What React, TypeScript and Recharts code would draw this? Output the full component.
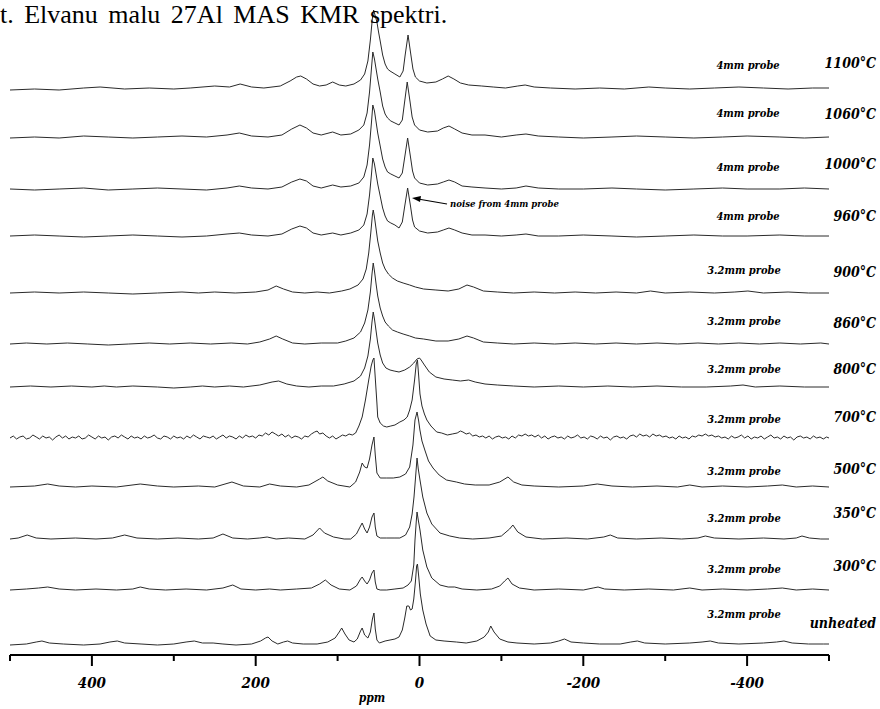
import React from 'react';
import { LineChart, Line, XAxis, YAxis } from 'recharts';

type Pt = [number, number];

// ppm, intensity (stacked 27Al MAS NMR spectra, top to bottom)
const T1100: Pt[] = [[500,-2],[470,-1],[440,-2],[410,0],[390,1],[360,-1],[330,0],[300,-1],[280,0],[250,2],[232,1],[219,4],[205,1],[190,0],[170,2],[158,7],[150,11],[145,12],[138,9],[130,4],[122,2],[114,3],[106,6],[98,3],[90,2],[80,4],[72,8],[67,14],[63,27],[60,48],[57.5,70],[56,78],[54,72],[52,66],[50,56],[48,47],[45,33],[42,24],[39,19],[36,17],[30,14],[24,11],[20,17],[17.5,33],[14,53],[10.5,33],[8,19],[5,11],[0,7],[-9,5],[-20,6],[-28,9],[-35,12],[-42,9],[-50,5],[-60,3],[-76,2],[-90,1],[-105,0],[-120,2],[-129,3],[-140,1],[-160,0],[-190,-1],[-220,0],[-250,-1],[-280,1],[-300,0],[-330,-1],[-360,0],[-390,1],[-420,0],[-450,-1],[-480,0],[-500,0]];
const T1060: Pt[] = [[500,-1],[470,0],[440,-1],[410,1],[380,0],[350,-1],[320,0],[290,1],[260,0],[235,2],[220,4],[205,1],[185,0],[168,2],[156,8],[146,12],[138,9],[130,4],[120,2],[106,5],[96,2],[84,3],[74,7],[68,12],[64,24],[61,45],[58.5,70],[57,85],[55,78],[53,68],[51,58],[48,45],[45,31],[42,23],[39,19],[35,16],[30,14],[25,12],[21,17],[18.5,33],[15,55],[11.5,35],[9,20],[6,12],[0,7],[-10,5],[-22,6],[-29,9],[-36,11],[-43,8],[-52,4],[-64,2],[-80,2],[-100,0],[-118,2],[-130,3],[-145,1],[-170,0],[-200,-1],[-235,0],[-265,1],[-300,0],[-335,-1],[-370,0],[-400,1],[-440,0],[-470,-1],[-500,0]];
const T1000: Pt[] = [[500,0],[470,-1],[440,0],[410,1],[380,-1],[350,0],[320,1],[290,0],[260,-1],[235,1],[220,3],[205,1],[185,0],[168,2],[156,7],[146,10],[138,8],[130,3],[120,1],[106,4],[96,2],[84,3],[74,6],[68,12],[64,24],[61,44],[58.5,68],[57,84],[55,78],[53,67],[51,56],[48,43],[45,30],[42,22],[39,17],[35,15],[30,13],[25,11],[21,16],[18,32],[14.5,51],[11,32],[8.5,18],[6,11],[0,6],[-10,4],[-22,5],[-29,7],[-36,9],[-43,7],[-52,3],[-64,2],[-80,1],[-100,0],[-118,1],[-130,3],[-145,1],[-170,0],[-200,0],[-235,1],[-265,0],[-300,-1],[-335,0],[-370,1],[-400,0],[-440,0],[-470,1],[-500,0]];
const T960: Pt[] = [[500,0],[470,1],[440,0],[410,-1],[380,0],[350,1],[320,0],[290,-1],[260,0],[235,2],[220,3],[205,1],[185,0],[168,2],[156,7],[146,10],[138,8],[130,3],[120,1],[106,3],[96,1],[84,3],[74,6],[68,11],[64,22],[61,41],[58.5,63],[57,78],[55,72],[53,62],[51,52],[48,40],[45,28],[42,20],[39,15],[35,13],[30,11],[25,8],[21,14],[18,30],[14.5,48],[11,30],[8.5,16],[6,9],[0,5],[-10,3],[-22,4],[-29,6],[-36,8],[-43,6],[-52,3],[-64,1],[-80,1],[-100,0],[-118,1],[-130,2],[-145,0],[-170,0],[-200,1],[-235,0],[-265,-1],[-300,0],[-335,1],[-370,0],[-400,0],[-440,1],[-470,0],[-500,0]];
const T900: Pt[] = [[500,0],[470,1],[440,0],[410,1],[380,0],[350,-1],[320,0],[290,1],[270,0],[250,1],[225,0],[200,1],[185,3],[175,7],[166,4],[155,1],[140,0],[125,1],[110,0],[95,2],[85,4],[75,8],[69,14],[65,24],[62,40],[59.5,60],[57.5,78],[56.5,83],[55,76],[53,64],[51,52],[48,40],[45,30],[42,24],[38,19],[33,15],[27,12],[20,10],[12,8],[5,6],[-5,4],[-20,3],[-35,2],[-48,4],[-58,8],[-66,6],[-78,2],[-95,1],[-115,0],[-140,1],[-165,0],[-190,1],[-215,0],[-240,1],[-265,0],[-282,2],[-300,0],[-330,1],[-360,0],[-385,1],[-401,2],[-420,0],[-450,1],[-475,0],[-500,0]];
const T860: Pt[] = [[500,0],[480,1],[455,0],[430,1],[405,0],[380,-1],[355,0],[330,1],[305,0],[280,1],[255,0],[230,1],[210,0],[195,2],[183,5],[175,8],[167,5],[155,1],[140,0],[120,1],[100,1],[90,3],[80,6],[72,12],[67,21],[63,34],[60,52],[58,70],[56.5,81],[55,73],[53,60],[51,48],[48,36],[45,28],[42,22],[38,18],[33,14],[27,12],[20,10],[12,8],[5,6],[-5,5],[-20,3],[-35,3],[-48,5],[-58,8],[-66,6],[-78,2],[-95,1],[-115,0],[-140,1],[-165,0],[-190,1],[-215,0],[-240,1],[-265,0],[-290,1],[-315,0],[-340,1],[-365,0],[-390,1],[-415,0],[-440,1],[-465,0],[-490,1],[-500,0]];
const T800: Pt[] = [[500,0],[475,1],[450,0],[425,1],[400,0],[385,1],[370,0],[350,1],[320,0],[300,-1],[280,0],[265,1],[250,0],[232,1],[215,0],[195,2],[180,5],[172,6],[162,3],[150,1],[135,0],[120,1],[105,1],[92,3],[80,6],[72,11],[67,19],[63,31],[60,48],[58,65],[56.5,75],[55,68],[53,56],[51,44],[48,32],[45,24],[41,19],[36,17],[31,16],[25,15],[18,17],[12,20],[7,24],[3,28],[0,29],[-2,27],[-6,22],[-12,15],[-20,10],[-30,8],[-40,7],[-50,6],[-60,7],[-68,5],[-80,3],[-95,2],[-115,1],[-140,0],[-170,1],[-200,0],[-230,1],[-260,0],[-290,1],[-320,0],[-350,0],[-380,1],[-395,2],[-410,0],[-440,1],[-470,0],[-500,0]];
const T700: Pt[] = [[500,0],[496,2],[492,-1],[488,1],[484,2],[480,-1],[476,0],[472,3],[468,1],[464,-1],[460,2],[456,0],[452,1],[448,-2],[444,1],[440,3],[436,0],[432,2],[428,-1],[424,1],[420,0],[416,2],[412,-1],[408,0],[404,3],[400,1],[396,-1],[392,2],[388,0],[384,1],[380,-2],[376,1],[372,2],[368,0],[364,3],[360,1],[356,-1],[352,2],[348,0],[344,1],[340,-1],[336,2],[332,0],[328,1],[324,3],[320,0],[316,-1],[312,2],[308,1],[304,-1],[300,2],[296,0],[292,1],[288,-1],[284,2],[280,0],[276,3],[272,1],[268,-1],[264,2],[260,1],[256,0],[252,2],[248,-1],[244,1],[240,3],[236,0],[232,2],[228,1],[224,-1],[220,2],[216,0],[212,3],[208,1],[204,2],[200,0],[196,3],[192,2],[188,5],[184,3],[180,6],[176,4],[172,2],[168,4],[164,1],[160,3],[156,0],[152,2],[148,1],[144,-1],[140,2],[136,1],[132,4],[128,6],[125,7],[122,4],[118,5],[114,2],[110,0],[106,2],[102,-1],[98,1],[94,3],[90,2],[86,4],[82,3],[78,5],[74,12],[70,21],[66,38],[62,58],[59,72],[57,78],[55.6,80],[54,60],[52,35],[51,21],[48,15],[44,12],[40,11],[35,12],[30,13],[24,16],[19,18],[15,21],[12,28],[9,38],[6,58],[4,74],[2.5,78],[1,62],[-0.6,44],[-3,32],[-6,24],[-9,18],[-14,12],[-21,6],[-27,5],[-34,3],[-40,4],[-46,5],[-50,7],[-53,6],[-57,4],[-61,5],[-65,2],[-69,3],[-73,1],[-77,2],[-81,0],[-85,2],[-89,-1],[-93,1],[-97,2],[-101,0],[-105,1],[-109,-1],[-113,2],[-117,0],[-121,3],[-125,2],[-129,4],[-133,2],[-137,3],[-141,1],[-145,3],[-149,0],[-153,2],[-157,-1],[-161,1],[-165,2],[-169,0],[-173,1],[-177,-1],[-181,2],[-185,0],[-189,1],[-193,3],[-197,0],[-201,1],[-205,-1],[-209,2],[-213,1],[-217,-1],[-221,2],[-225,0],[-229,1],[-233,-2],[-237,1],[-241,2],[-245,0],[-249,1],[-253,-1],[-257,2],[-261,3],[-265,1],[-269,4],[-273,2],[-277,3],[-281,1],[-285,4],[-289,2],[-293,3],[-297,1],[-301,2],[-305,0],[-309,1],[-313,-1],[-317,2],[-321,0],[-325,1],[-329,-1],[-333,2],[-337,1],[-341,3],[-345,2],[-349,4],[-353,2],[-357,3],[-361,1],[-365,2],[-369,0],[-373,1],[-377,-1],[-381,2],[-385,0],[-389,1],[-393,3],[-397,0],[-401,2],[-405,-1],[-409,1],[-413,0],[-417,2],[-421,-1],[-425,1],[-429,3],[-433,0],[-437,1],[-441,-1],[-445,2],[-449,0],[-453,1],[-457,-2],[-461,1],[-465,2],[-469,0],[-473,1],[-477,-1],[-481,2],[-485,0],[-489,1],[-493,-1],[-497,1],[-500,0]];
const T500: Pt[] = [[500,0],[470,1],[454,3],[440,1],[420,0],[400,1],[370,0],[341,3],[320,1],[300,0],[270,1],[250,0],[229,5],[215,1],[195,0],[183,3],[170,1],[150,0],[135,2],[122,8],[118,10],[112,6],[100,2],[85,0],[78,5],[73,15],[70,24],[67,20],[64,19],[61,28],[58,42],[55.6,50],[54,32],[52,14],[48,9],[40,9],[32,9],[24,10],[17,13],[12,20],[8,42],[5.5,67],[3,75],[1,66],[-0.5,57],[-3,46],[-6.5,37],[-11,26],[-16.5,19],[-24,12],[-33,7],[-45,5],[-55,3],[-68,2],[-85,2],[-98,5],[-108,10],[-115,5],[-125,2],[-140,1],[-170,0],[-200,1],[-217,3],[-235,1],[-260,0],[-290,1],[-315,0],[-330,2],[-345,0],[-370,1],[-400,0],[-425,1],[-443,2],[-460,0],[-480,1],[-500,0]];
const T350: Pt[] = [[500,0],[490,1],[479,4],[468,1],[450,0],[420,1],[395,0],[375,1],[360,4],[345,1],[320,0],[295,1],[270,0],[252,1],[240,5],[228,1],[210,0],[195,1],[186,2],[175,0],[160,1],[140,0],[130,4],[122,11],[116,6],[105,2],[92,0],[84,0],[77,5],[72,13],[70,16],[67,10],[64,6],[61,12],[58,22],[55.6,26],[54,12],[52,3],[48,1],[40,1],[30,1],[24,1],[17,4],[12,12],[9,25],[6.7,42],[4.5,65],[3,81],[1.5,70],[-0.6,59],[-4,42],[-9,26],[-15,15],[-25,6],[-37,3],[-49,1],[-65,0],[-85,1],[-100,3],[-110,10],[-114,14],[-120,7],[-130,2],[-150,0],[-180,1],[-205,0],[-225,2],[-233,4],[-242,1],[-265,0],[-295,1],[-320,0],[-340,1],[-349,3],[-360,1],[-390,0],[-420,1],[-445,0],[-460,1],[-467,3],[-476,1],[-490,0],[-500,0]];
const T300: Pt[] = [[500,0],[480,1],[465,2],[454,3],[440,1],[420,0],[395,1],[370,0],[350,1],[341,3],[330,1],[310,0],[285,1],[260,0],[240,2],[228,5],[218,1],[200,0],[183,1],[170,0],[150,1],[132,2],[122,6],[115,10],[108,5],[98,1],[85,0],[77,4],[72,11],[70,13],[67,9],[64,6],[61,10],[58,17],[55.6,20],[54,8],[52,1],[48,0],[40,0],[30,1],[20,2],[14,5],[10,9],[7,25],[5.5,50],[4,68],[3,78],[1.5,70],[-0.6,60],[-4,40],[-9,23],[-15,12],[-25,5],[-35,3],[-43,3],[-52,1],[-70,0],[-88,1],[-98,4],[-104,9],[-108,12],[-113,6],[-122,2],[-140,0],[-170,1],[-200,0],[-212,2],[-218,3],[-226,1],[-250,0],[-280,1],[-310,0],[-330,2],[-345,0],[-370,1],[-400,0],[-425,1],[-443,2],[-460,0],[-480,1],[-500,0]];
const TUNH: Pt[] = [[500,-1],[480,0],[468,2],[461,3],[452,1],[435,0],[410,-1],[390,0],[378,2],[369,3],[360,1],[340,0],[320,-1],[300,0],[285,2],[275,3],[265,1],[252,1],[240,0],[224,-1],[205,0],[194,3],[188,6],[185,7],[180,3],[173,0],[166,2],[161,3],[155,1],[142,0],[125,0],[112,2],[103,6],[98,12],[95,16],[91,10],[86,4],[80,2],[76,5],[72,13],[70,16],[67,9],[63,6],[60,12],[57.5,25],[55.6,31],[54,15],[52,4],[49,1],[42,3],[36,4],[30,5],[25,7],[21,14],[18,26],[15.5,38],[13,38],[11,34],[9,35],[7,45],[5,62],[3.5,78],[2.5,80],[1,68],[-1,50],[-4,34],[-8,20],[-13,8],[-20,4],[-30,3],[-45,2],[-57,1],[-70,3],[-79,7],[-84,12],[-87,18],[-91,12],[-98,5],[-108,2],[-119,1],[-140,0],[-160,1],[-170,3],[-177,5],[-185,2],[-200,1],[-220,0],[-245,0],[-258,2],[-266,3],[-275,1],[-300,0],[-330,1],[-345,2],[-355,3],[-365,1],[-390,0],[-420,1],[-436,2],[-445,3],[-455,1],[-475,0],[-493,0],[-500,0]];

const SPECTRA: Pt[][] = [T1100, T1060, T1000, T960, T900, T860, T800, T700, T500, T350, T300, TUNH];
const TEMPERATURES = ['1100°C', '1060°C', '1000°C', '960°C', '900°C', '860°C', '800°C', '700°C', '500°C', '350°C', '300°C', 'unheated'];
const PROBES = ['4mm probe', '4mm probe', '4mm probe', '4mm probe', '3.2mm probe', '3.2mm probe', '3.2mm probe', '3.2mm probe', '3.2mm probe', '3.2mm probe', '3.2mm probe', '3.2mm probe'];
// vertical stacking offset of each spectrum (intensity units)
const OFFSETS = [567, 518, 466, 419, 362, 311, 268, 217, 168, 116, 65, 11];
const X_TICKS = [500, 400, 300, 200, 100, 0, -100, -200, -300, -400, -500];
const X_LABELED = [400, 200, 0, -200, -400];
const TITLE = 't. Elvanu malu 27Al MAS KMR spektri.';
const NOTE = 'noise from 4mm probe';
const X_TITLE = 'ppm';

// layout
const W = 880;
const H = 709;
const PROBE_Y = [65, 113, 167, 216, 270, 321, 369, 419, 471, 518, 569, 614];
const TEMP_Y = [63, 114, 164, 216, 272, 323, 369, 417, 469, 513, 566, 623];
const LABEL_FONT = "'DejaVu Serif Condensed', 'DejaVu Serif', 'Liberation Serif', serif";

const series = SPECTRA.map((pts, i) => pts.map(([ppm, v]) => ({ x: ppm, y: v + OFFSETS[i] })));

const AxisTick = (props: any) => {
  const { x, y, payload } = props;
  const v = payload.value as number;
  const major = X_LABELED.includes(v);
  return (
    <g>
      <line x1={x} y1={y} x2={x} y2={y + (major ? 11 : 6)} stroke="#000" strokeWidth={2} />
      {major && (
        <text x={x} y={y + 33} textAnchor="middle" fontFamily={LABEL_FONT} fontStyle="italic" fontWeight="bold" fontSize={15} fill="#000">
          {String(v)}
        </text>
      )}
    </g>
  );
};

export default function App() {
  return (
    <div style={{ position: 'absolute', left: 0, top: 0, width: W, height: H, background: '#fff' }}>
      <LineChart width={W} height={H} margin={{ top: 0, right: 51, bottom: 0, left: 10 }}>
        <XAxis
          dataKey="x"
          type="number"
          domain={[-500, 500]}
          reversed
          ticks={X_TICKS}
          interval={0}
          allowDataOverflow
          height={54}
          tickSize={0}
          tickMargin={0}
          tickLine={false}
          axisLine={{ stroke: '#000', strokeWidth: 2 }}
          tick={<AxisTick />}
        />
        <YAxis hide type="number" domain={[0, 655]} allowDataOverflow width={0} />
        {series.map((d, i) => (
          <Line
            key={TEMPERATURES[i]}
            data={d}
            dataKey="y"
            type="linear"
            dot={false}
            activeDot={false}
            stroke="#2a2a2a"
            strokeWidth={1}
            isAnimationActive={false}
          />
        ))}
      </LineChart>
      <svg width={W} height={H} style={{ position: 'absolute', left: 0, top: 0, pointerEvents: 'none' }}>
        <text x={0} y={23} fontFamily="'Liberation Serif', 'Times New Roman', serif" fontSize={26} wordSpacing={4} fill="#000">
          {TITLE}
        </text>
        {PROBES.map((p, i) => (
          <text key={'p' + i} x={i < 4 ? 748 : 744} y={PROBE_Y[i] + 4} textAnchor="middle" fontFamily={LABEL_FONT} fontStyle="italic" fontWeight="bold" fontSize={11} fill="#000">
            {p}
          </text>
        ))}
        {TEMPERATURES.map((t, i) => (
          <text key={'t' + i} x={876} y={TEMP_Y[i] + 5} textAnchor="end" fontFamily={LABEL_FONT} fontStyle="italic" fontWeight="bold" fontSize={14} fill="#000">
            {t}
          </text>
        ))}
        <text x={372} y={702} textAnchor="middle" fontFamily={LABEL_FONT} fontStyle="italic" fontWeight="bold" fontSize={12} fill="#000">
          {X_TITLE}
        </text>
        <line x1={447} y1={204} x2={418} y2={199} stroke="#000" strokeWidth={1.2} />
        <path d="M412,198 L421,196 L420,202 Z" fill="#000" />
        <text x={450} y={207} fontFamily={LABEL_FONT} fontStyle="italic" fontWeight="bold" fontSize={9.5} fill="#000">
          {NOTE}
        </text>
      </svg>
    </div>
  );
}
